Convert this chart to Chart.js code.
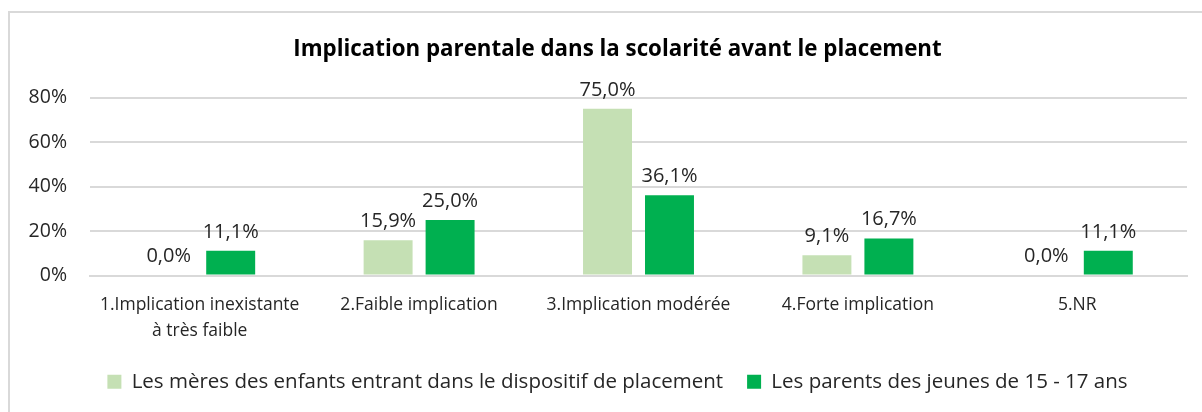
<!DOCTYPE html>
<html>
<head>
<meta charset="utf-8">
<script src="https://cdn.jsdelivr.net/npm/chart.js@4.4.0/dist/chart.umd.min.js"></script>
<style>
  html, body { margin: 0; padding: 0; background: #fff; overflow: hidden; }
  #frame { position: absolute; left: 8px; top: 11px; width: 1300px; height: 500px;
           border-left: 2px solid #d9d9d9; border-top: 2px solid #d9d9d9; }
  #wrap { position: absolute; left: 0; top: 0; width: 1202px; height: 412px; }
</style>
</head>
<body>
<div id="frame"></div>
<div id="wrap"><canvas id="chart" width="1202" height="412"></canvas></div>
<script>
// données
const categories = [
    ["1.Implication inexistante", "à très faible"],
    "2.Faible implication",
    "3.Implication modérée",
    "4.Forte implication",
    "5.NR"
];
const meres = [0.0, 15.9, 75.0, 9.1, 0.0];
const parents = [11.1, 25.0, 36.1, 16.7, 11.1];
const yTicks = [0, 20, 40, 60, 80];

const seriesNames = [
    "Les mères des enfants entrant dans le dispositif de placement",
    "Les parents des jeunes de 15 - 17 ans"
];

const FONT = "'Open Sans', 'DejaVu Sans', sans-serif";

// étiquettes de valeur au-dessus des barres
const valueLabels = {
    id: 'valueLabels',
    afterDatasetsDraw(chart) {
        const ctx = chart.ctx;
        ctx.save();
        ctx.font = "20px " + FONT;
        ctx.fillStyle = "#262626";
        ctx.textAlign = "center";
        ctx.textBaseline = "bottom";
        chart.data.datasets.forEach(function (ds, i) {
            chart.getDatasetMeta(i).data.forEach(function (bar, j) {
                let txt = ds.data[j].toFixed(1).replace('.', ',') + '%';
                ctx.fillText(txt, bar.x, bar.y - 9);
            });
        });
        ctx.restore();
    }
};

// décale titre et légende vers la droite (centrés comme dans Excel)
const shiftBoxes = {
    id: 'shiftBoxes',
    afterLayout(chart) {
        if (chart.titleBlock) chart.titleBlock.left += 38;
        if (chart.legend) chart.legend.left += 38;
    }
};

var ctx = document.getElementById('chart').getContext('2d');
var myChart = new Chart(ctx, {
    type: 'bar',
    data: {
        labels: categories,
        datasets: [{
            label: seriesNames[0],
            data: meres,
            backgroundColor: '#C5E0B4'
        }, {
            label: seriesNames[1],
            data: parents,
            backgroundColor: '#00B050'
        }]
    },
    options: {
        responsive: false,
        animation: false,
        datasets: {
            bar: { categoryPercentage: 0.565, barPercentage: 0.79 }
        },
        layout: { padding: { left: 10, right: 15, top: 0, bottom: 10 } },
        scales: {
            x: {
                grid: { display: false, drawTicks: false },
                border: { display: true, color: '#d9d9d9', width: 2 },
                ticks: { color: '#262626', font: { family: FONT, size: 17.5, lineHeight: 1.45 }, padding: 17, maxRotation: 0, autoSkip: false },
                afterFit: function (scale) { scale.height = 72; }
            },
            y: {
                min: 0,
                max: 80,
                afterBuildTicks: function (scale) {
                    scale.ticks = yTicks.map(v => ({ value: v }));
                },
                ticks: {
                    color: '#262626',
                    font: { family: FONT, size: 19.5 },
                    padding: 23,
                    callback: v => v + '%'
                },
                grid: { color: '#d9d9d9', lineWidth: 2, drawTicks: false },
                border: { display: false },
                afterFit: function (scale) { scale.width = 80; }
            }
        },
        plugins: {
            title: {
                display: true,
                text: 'Implication parentale dans la scolarité avant le placement',
                color: '#000',
                font: { family: FONT, size: 22.3, weight: 'bold' },
                padding: { top: 36, bottom: 35 }
            },
            legend: {
                position: 'bottom',
                labels: {
                    color: '#262626',
                    font: { family: FONT, size: 20.5 },
                    boxWidth: 14,
                    boxHeight: 14,
                    padding: 24
                }
            },
            tooltip: { enabled: false }
        }
    },
    plugins: [valueLabels, shiftBoxes]
});
</script>
</body>
</html>
